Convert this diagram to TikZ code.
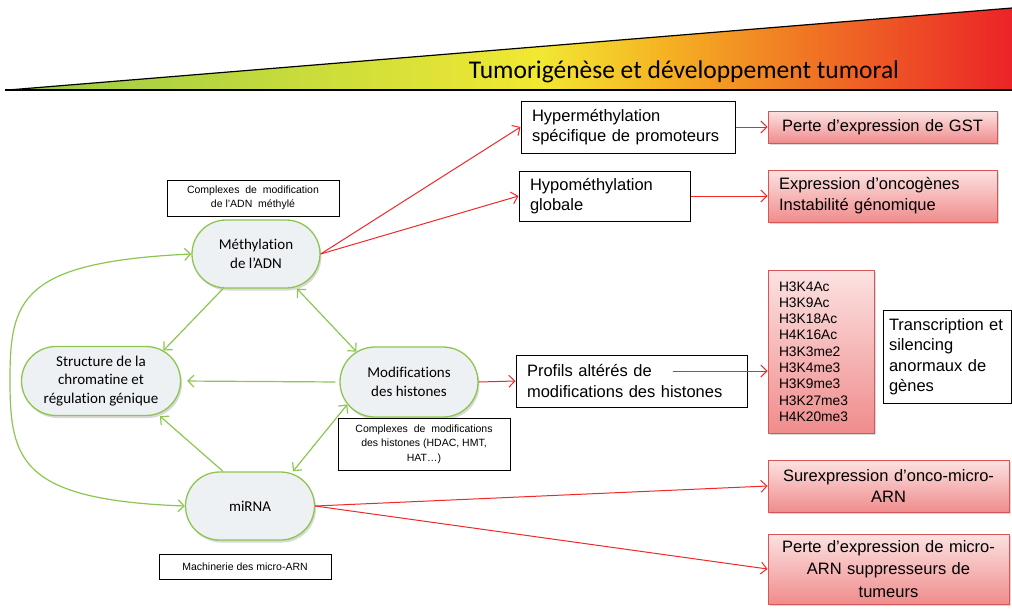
\documentclass[tikz,border=0pt]{standalone}
\usepackage{fontspec}
\setmainfont{Liberation Sans}
\newfontfamily\arial{Liberation Sans}
\newfontfamily\calib[RawFeature=-liga]{Carlito}
\usetikzlibrary{arrows.meta,shapes.misc,shadows}
\definecolor{gline}{RGB}{140,198,80}
\definecolor{ovalfill}{RGB}{238,241,243}
\definecolor{rline}{RGB}{240,40,40}
\definecolor{rborder}{RGB}{215,85,85}
\definecolor{rtop}{RGB}{252,226,226}
\definecolor{rbot}{RGB}{240,140,140}
\definecolor{ga}{RGB}{150,200,70}
\definecolor{gb}{RGB}{200,220,60}
\definecolor{gc}{RGB}{242,232,50}
\definecolor{gd}{RGB}{245,180,35}
\definecolor{ge}{RGB}{240,120,35}
\definecolor{gf}{RGB}{235,35,40}
\begin{document}
\begin{tikzpicture}[x=1pt,y=-1pt,
  >={Straight Barb[length=6pt,width=12pt]},
  oval/.style={rounded rectangle, draw=gline, line width=1.3pt, fill=ovalfill,
    minimum height=68pt, align=center, inner sep=2pt,
    font=\calib\fontsize{15}{18.5}\selectfont,
    drop shadow={shadow xshift=1.5pt, shadow yshift=-2.5pt, opacity=0.3}},
  smallbox/.style={draw=black, line width=0.9pt, fill=white, align=center,
    inner sep=0pt, font=\arial\fontsize{10.5}{14.5}\selectfont},
  blackbox/.style={draw=black, line width=1pt, fill=white, align=left,
    inner xsep=11pt, inner ysep=0pt, font=\arial\fontsize{16.5}{20.5}\selectfont},
  redbox/.style={draw=rborder, line width=0.9pt, top color=rtop, bottom color=rbot,
    inner xsep=11pt, inner ysep=0pt, font=\arial\fontsize{16.5}{21}\selectfont,
    drop shadow={shadow xshift=1.5pt, shadow yshift=-2pt, opacity=0.3}},
  garrow/.style={draw=gline, line width=1.2pt},
  rarrow/.style={draw=rline, line width=1pt, ->}
]
\useasboundingbox (0,0) rectangle (1012,608);

% title wedge
\begin{scope}
  \clip (8,90) -- (1012,8) -- (1012,90) -- cycle;
  \shade[left color=ga, right color=gb] (0,0) rectangle (301,95);
  \shade[left color=gb, right color=gc] (300,0) rectangle (541,95);
  \shade[left color=gc, right color=gd] (540,0) rectangle (661,95);
  \shade[left color=gd, right color=ge] (660,0) rectangle (801,95);
  \shade[left color=ge, right color=gf] (800,0) rectangle (1013,95);
\end{scope}
\draw[line width=1.2pt] (8,90) -- (1012,8);
\draw[line width=1.5pt] (5,90) -- (1012,90);
\node[font=\calib\fontsize{25.5}{30}\selectfont, anchor=base, inner sep=0pt] (title) at (684,78) {Tumorigénèse et développement tumoral};

% green ovals
\node[oval, minimum width=132pt] (meth) at (256,254) {Méthylation\\de l’ADN};
\node[oval, minimum width=163pt, minimum height=69pt] (struct) at (101,381) {Structure de la\\chromatine et\\régulation génique};
\node[oval, minimum width=142pt, minimum height=70pt] (mod) at (409,382) {Modifications\\des histones};
\node[oval, minimum width=133pt] (mirna) at (250,506) {miRNA};

% small boxes
\node[smallbox, minimum width=172pt, minimum height=36pt] (cmeth) at (253,198) {Complexes\ \ de\ \ modification\\de l’ADN\ \ méthylé};
\node[smallbox, minimum width=172pt, minimum height=52pt] (chist) at (424,444) {Complexes\ \ de\ \ modifications\\des histones (HDAC, HMT,\\HAT…)};
\node[smallbox, minimum width=172pt, minimum height=25pt] (mach) at (245,566.5) {Machinerie des micro-ARN};

% black boxes
\node[blackbox, text width=192pt, minimum height=52pt] (hyper) at (628,127) {Hyperméthylation\\spécifique de promoteurs};
\node[blackbox, text width=149pt, minimum height=50pt] (hypo) at (604.5,196) {Hypométhylation\\globale};
\node[blackbox, text width=209pt, minimum height=52pt] (prof) at (631.5,381) {Profils altérés de\\modifications des histones};
\node[blackbox, inner xsep=6pt, text width=116pt, minimum height=93pt] (trans) at (947,356.5) {Transcription et\\silencing\\anormaux de\\gènes};

% red boxes
\node[redbox, align=center, text width=207pt, minimum height=32pt] (gst) at (882.5,127) {Perte d’expression de GST};
\node[redbox, align=left, text width=207pt, minimum height=52pt] (expr) at (882.5,196) {Expression d’oncogènes\\Instabilité génomique};
\node[redbox, align=left, text width=84pt, minimum height=163pt, font=\arial\fontsize{13.8}{16.3}\selectfont] (h3) at (821,351.5) {H3K4Ac\\H3K9Ac\\H3K18Ac\\H4K16Ac\\H3K3me2\\H3K4me3\\H3K9me3\\H3K27me3\\H4K20me3};
\node[redbox, align=center, text width=219pt, minimum height=52pt] (surex) at (888.5,486) {Surexpression d’onco-micro-\\ARN};
\node[redbox, align=center, text width=219pt, minimum height=70pt, font=\arial\fontsize{16.5}{22.5}\selectfont] (perte) at (888.5,569) {Perte d’expression de micro-\\ARN suppresseurs de\\tumeurs};

% red arrows
\draw[rarrow] (meth.east) -- (hyper.west);
\draw[rarrow] (meth.east) -- (hypo.west);
\draw[rarrow] (hyper.east) -- (gst.west);
\draw[rarrow] (hypo.east) -- (expr.west);
\draw[rarrow] (mod.east) -- (prof.west);
\coordinate (pstart) at (673,371);
\draw[rarrow] (pstart) -- (pstart -| h3.west);
\draw[rarrow] (mirna.east) -- (surex.west);
\draw[rarrow] (mirna.east) -- (perte.west);

% green arrows
\draw[garrow, ->] ([xshift=-33pt]meth.south) -- (struct.26);
\draw[garrow, <->] ([xshift=41pt]meth.south) -- (mod.150);
\draw[garrow, ->, shorten <=4pt, shorten >=6pt] (mod.west) -- (struct.east);
\draw[garrow, <->] (mod.200) -- ([xshift=43pt]mirna.north);
\draw[garrow, ->] ([xshift=-27pt]mirna.north) -- ([xshift=59pt]struct.south);
\draw[garrow, <->] (meth.west) .. controls (20,262) and (10,300) .. (10,380)
  .. controls (10,460) and (20,500) .. (mirna.west);
\end{tikzpicture}
\end{document}
